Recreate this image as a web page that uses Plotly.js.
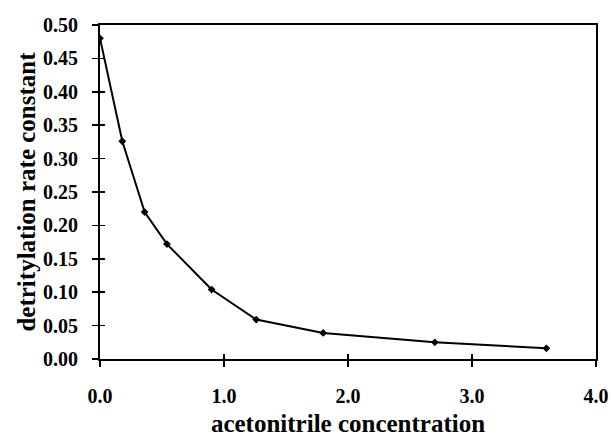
<!DOCTYPE html>
<html>
<head>
<meta charset="utf-8">
<script src="https://cdn.plot.ly/plotly-3.0.1.min.js"></script>
<style>html,body{margin:0;padding:0;background:#fff;}#chart{width:611px;height:437px;}</style>
</head>
<body>
<div id="chart"></div>
<script>
const concentration = [0, 0.18, 0.36, 0.54, 0.9, 1.26, 1.8, 2.7, 3.6];
const rateConstant = [0.48, 0.326, 0.22, 0.172, 0.104, 0.059, 0.039, 0.025, 0.016];
const xTickVals = [0, 1, 2, 3, 4];
const xTickText = ['0.0', '1.0', '2.0', '3.0', '4.0'];
const yTickVals = [0, 0.05, 0.10, 0.15, 0.20, 0.25, 0.30, 0.35, 0.40, 0.45, 0.50];
const yTickText = ['0.00', '0.05', '0.10', '0.15', '0.20', '0.25', '0.30', '0.35', '0.40', '0.45', '0.50'];

const fam = '"Liberation Serif", "Times New Roman", serif';

const trace = {
  x: concentration, y: rateConstant, type: 'scatter', mode: 'lines+markers',
  line: {color: '#000', width: 2},
  marker: {color: '#000', size: 6, symbol: 'diamond'},
  hoverinfo: 'skip'
};

const layout = {
  width: 611, height: 437,
  margin: {l: 100, r: 15, t: 25, b: 78},
  paper_bgcolor: '#fff', plot_bgcolor: '#fff',
  showlegend: false,
  font: {family: fam, color: '#000', size: 20},
  xaxis: {
    range: [0, 4], tickvals: xTickVals, ticktext: xTickText,
    showgrid: false, zeroline: false,
    showline: true, linecolor: '#000', linewidth: 2, mirror: true,
    ticks: 'outside', ticklen: 6, tickwidth: 1.5, tickcolor: '#000',
    ticklabelstandoff: 12,
    tickfont: {family: fam, size: 20, color: '#000', weight: 'bold'},
    title: {text: 'acetonitrile concentration', standoff: 22,
            font: {family: fam, size: 25, color: '#000', weight: 'bold'}}
  },
  yaxis: {
    range: [0, 0.5], tickvals: yTickVals, ticktext: yTickText,
    showgrid: false, zeroline: false,
    showline: true, linecolor: '#000', linewidth: 2, mirror: true,
    ticks: 'outside', ticklen: 6, tickwidth: 1.5, tickcolor: '#000',
    ticklabelstandoff: 10,
    tickfont: {family: fam, size: 20, color: '#000', weight: 'bold'},
    title: {text: 'detritylation rate constant', standoff: 0,
            font: {family: fam, size: 25, color: '#000', weight: 'bold'}}
  },
  xaxis2: {
    overlaying: 'x', matches: 'x', range: [0, 4], tickvals: xTickVals,
    showticklabels: false, showgrid: false, zeroline: false, showline: false,
    ticks: 'inside', ticklen: 5, tickwidth: 1.5, tickcolor: '#000'
  },
  yaxis2: {
    overlaying: 'y', matches: 'y', range: [0, 0.5], tickvals: yTickVals,
    showticklabels: false, showgrid: false, zeroline: false, showline: false,
    ticks: 'inside', ticklen: 5, tickwidth: 1.5, tickcolor: '#000'
  }
};

const helper = {x: [], y: [], xaxis: 'x2', yaxis: 'y2', type: 'scatter', hoverinfo: 'skip'};

Plotly.newPlot('chart', [trace, helper], layout, {staticPlot: true});
</script>
</body>
</html>
